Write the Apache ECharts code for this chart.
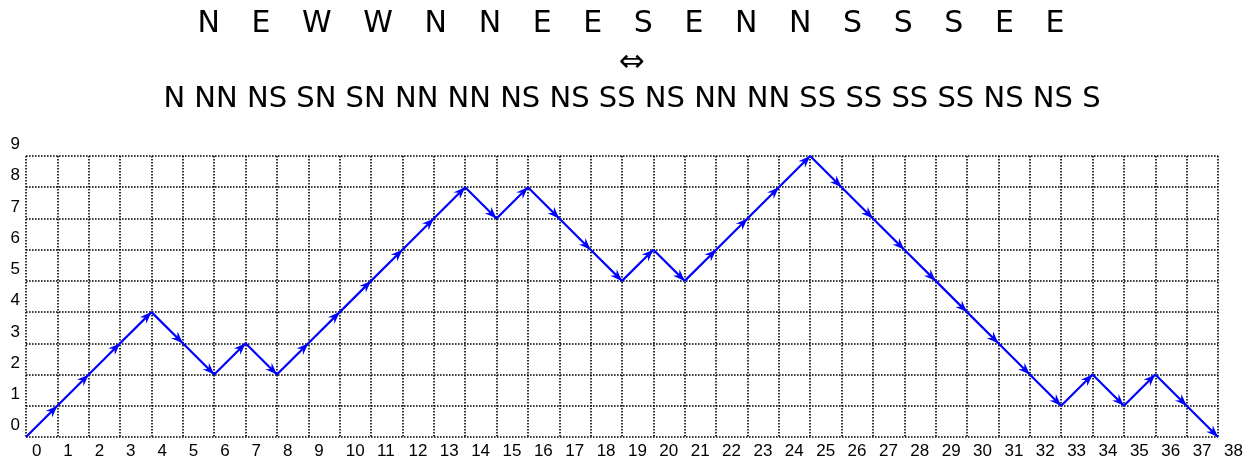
<!DOCTYPE html>
<html><head><meta charset="utf-8">
<script src="https://cdn.jsdelivr.net/npm/echarts@6/dist/echarts.min.js"></script>
<style>html,body{margin:0;padding:0;background:#fff}#c{width:1249px;height:460px}</style>
</head><body><div id="c"></div>
<script>
// Walk letters (title lines)
const compassWord = ['N','E','W','W','N','N','E','E','S','E','N','N','S','S','S','E','E'];
const pairWord = ['N','NN','NS','SN','SN','NN','NN','NS','NS','SS','NS','NN','NN','SS','SS','SS','SS','NS','NS','S'];
// Height of the path after each step (x = 0..38)
const heights = [0,1,2,3,4,3,2,3,2,3,4,5,6,7,8,7,8,7,6,5,6,5,6,7,8,9,8,7,6,5,4,3,2,1,2,1,2,1,0];
const xMin = 0, xMax = 38, yMin = 0, yMax = 9;

const pathData = heights.map((h, i) => [i, h]);
const segData = [];
for (let i = 0; i + 1 < heights.length; i++) segData.push([i, heights[i], i + 1, heights[i + 1]]);

const BLUE = '#0000ff';
const gridLine = { show: true, lineStyle: { color: '#000', width: 1.6, type: [1.6, 1.4] } };
const titleFont = '29px "DejaVu Sans"';

const chart = echarts.init(document.getElementById('c'), null, { renderer: 'canvas' });
chart.setOption({
  animation: false,
  backgroundColor: '#fff',
  grid: { left: 26, right: 31, top: 156, bottom: 22, containLabel: false },
  graphic: [
    { type: 'text', x: 631, y: 24, style: { text: compassWord.join('   \u200A'), font: '30px "DejaVu Sans"', fill: '#000', textAlign: 'center', textVerticalAlign: 'middle' } },
    { type: 'text', x: 632, y: 63, style: { text: '\u21D4', font: '31px "DejaVu Sans"', fill: '#000', textAlign: 'center', textVerticalAlign: 'middle' } },
    { type: 'text', x: 632, y: 99, style: { text: pairWord.join(' '), font: titleFont, fill: '#000', textAlign: 'center', textVerticalAlign: 'middle' } }
  ],
  xAxis: {
    type: 'value', min: xMin, max: xMax, interval: 1,
    axisLine: { show: false }, axisTick: { show: false },
    splitLine: gridLine,
    axisLabel: { color: '#000', fontSize: 17, fontFamily: '"Liberation Sans", Arial', align: 'left', padding: [0, 0, 0, 6], margin: 6 }
  },
  yAxis: {
    type: 'value', min: yMin, max: yMax, interval: 1,
    axisLine: { show: false }, axisTick: { show: false },
    splitLine: gridLine,
    axisLabel: { color: '#000', fontSize: 17, fontFamily: '"Liberation Sans", Arial', align: 'right', verticalAlign: 'bottom', margin: 6, padding: [0, 0, 3, 0] }
  },
  series: [
    {
      type: 'line', data: pathData, showSymbol: false, symbol: 'none',
      lineStyle: { color: BLUE, width: 2.2 }, z: 3
    },
    {
      type: 'custom', data: segData, encode: { x: [0, 2], y: [1, 3] }, z: 4,
      renderItem: function (params, api) {
        const p0 = api.coord([api.value(0), api.value(1)]);
        const p1 = api.coord([api.value(2), api.value(3)]);
        let dx = p1[0] - p0[0], dy = p1[1] - p0[1];
        const len = Math.sqrt(dx * dx + dy * dy);
        dx /= len; dy /= len;
        const nx = -dy, ny = dx;
        const L = 12, W = 4.6, N = 8;
        const pts = [
          [p1[0], p1[1]],
          [p1[0] - dx * L + nx * W, p1[1] - dy * L + ny * W],
          [p1[0] - dx * N, p1[1] - dy * N],
          [p1[0] - dx * L - nx * W, p1[1] - dy * L - ny * W]
        ];
        return { type: 'polygon', shape: { points: pts }, style: { fill: BLUE } };
      }
    }
  ]
});
</script></body></html>
